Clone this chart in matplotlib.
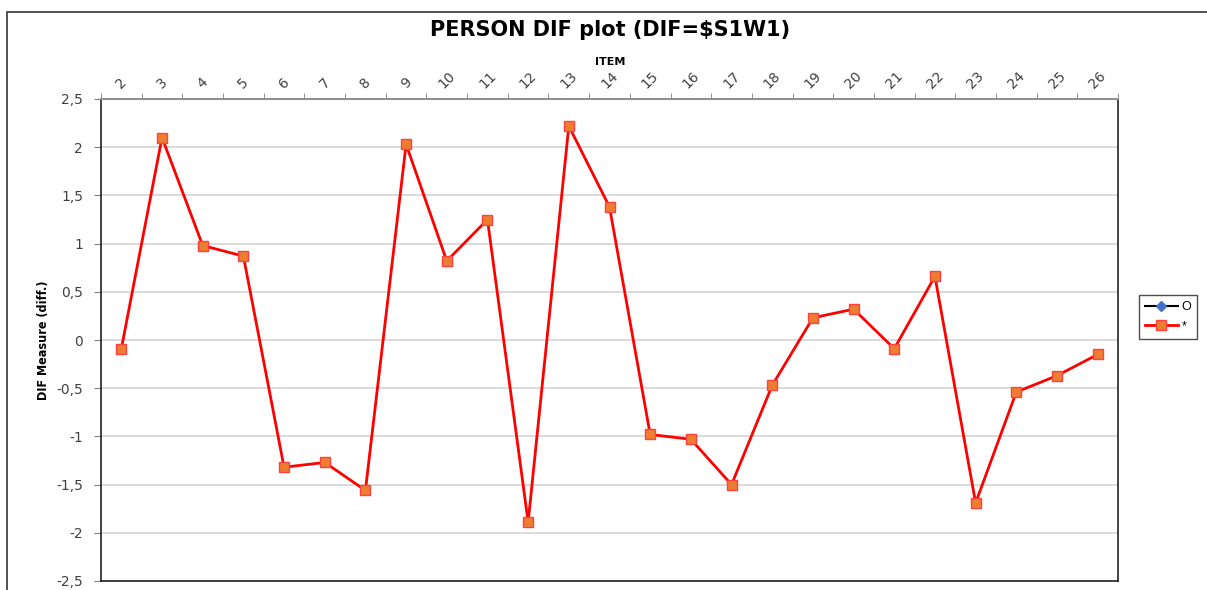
import numpy as np
import matplotlib.pyplot as plt
from matplotlib.patches import Rectangle

# DIF measures per item
items = [str(i) for i in range(2, 27)]
dif_star = [-0.09, 2.10, 0.98, 0.87, -1.32, -1.27, -1.56, 2.03, 0.82, 1.25,
            -1.89, 2.22, 1.38, -0.98, -1.03, -1.50, -0.47, 0.23, 0.32, -0.09,
            0.66, -1.69, -0.54, -0.37, -0.15]
dif_o = [np.nan] * len(items)  # "O" group has no plotted values
yticks = [2.5, 2, 1.5, 1, 0.5, 0, -0.5, -1, -1.5, -2, -2.5]

plt.rcParams['font.family'] = ['Liberation Sans', 'DejaVu Sans']

fig = plt.figure(figsize=(12.07, 5.9), dpi=100)
# outer chart frame (cut off at right and bottom like the screenshot)
fig.patches.append(Rectangle((7 / 1207, -0.1), 1.2, 1 - 12 / 590 + 0.1,
                             transform=fig.transFigure, fill=False,
                             edgecolor='#333333', linewidth=1.2))

ax = fig.add_axes([101 / 1207, 1 - 581 / 590, (1118 - 101) / 1207, (581 - 99) / 590])
x = np.arange(len(items))
ax.plot(x, dif_o, color='black', marker='D', markersize=5,
        markerfacecolor='#4472C4', markeredgecolor='#4472C4', linewidth=1.5, label='O')
ax.plot(x, dif_star, color='#FF0000', marker='s', markersize=7,
        markerfacecolor='#ED7D31', markeredgecolor='#FF4040', linewidth=2, label='*')

ax.set_xlim(-0.5, len(items) - 0.5)
ax.set_ylim(-2.5, 2.5)
ax.set_yticks(yticks)
ax.set_yticklabels([('%g' % v).replace('.', ',') for v in yticks],
                   fontsize=10, color='#404040', family=['DejaVu Sans'])
ax.yaxis.grid(True, color='#d4d4d4', linewidth=1.2)
ax.set_axisbelow(True)

ax.xaxis.tick_top()
ax.set_xticks(x)
ax.set_xticklabels(items, rotation=45, fontsize=10, color='#404040',
                   ha='center', va='bottom', family=['DejaVu Sans'])
ax.set_xticks(np.arange(-0.5, len(items)), minor=True)
ax.tick_params(axis='x', which='major', length=0, pad=6)
ax.tick_params(axis='x', which='minor', length=4, color='#808080', top=True, bottom=False)
ax.tick_params(axis='y', length=5, color='#808080', pad=8)

ax.spines['top'].set_color('#909090')
ax.spines['top'].set_linewidth(1.5)
for s in ['left', 'right', 'bottom']:
    ax.spines[s].set_color('#222222')
    ax.spines[s].set_linewidth(1.2)

ax.set_ylabel('DIF Measure (diff.)', fontsize=9, fontweight='bold',
              family=['DejaVu Sans'], fontstretch='condensed')
ax.yaxis.set_label_coords(-0.05, 0.5)

fig.text(610 / 1207, 1 - 30 / 590, 'PERSON DIF plot (DIF=$S1W1)', ha='center', va='center',
         fontsize=15, fontweight='bold', family=['DejaVu Sans'])
fig.text(610 / 1207, 1 - 62 / 590, 'ITEM', ha='center', va='center',
         fontsize=8, fontweight='bold', family=['DejaVu Sans'])

fig.legend(loc='center', bbox_to_anchor=(1168 / 1207, 1 - 317 / 590),
           fontsize=9, frameon=True, fancybox=False, edgecolor='#222222',
           handlelength=2.6, borderpad=0.5, labelspacing=0.6, handletextpad=0.3)

fig.savefig('out.png', dpi=100)
